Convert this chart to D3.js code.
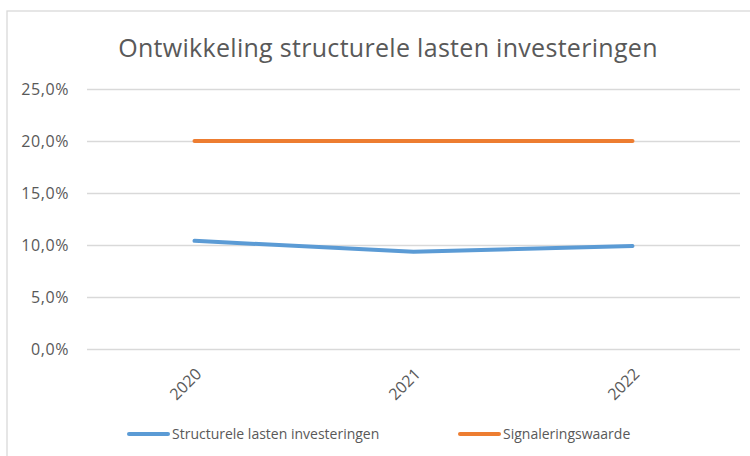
<!DOCTYPE html>
<html><head><meta charset="utf-8">
<script src="https://cdn.jsdelivr.net/npm/d3@7"></script>
<style>body{margin:0;background:#fff}svg{display:block}text{font-family:"Open Sans","Noto Sans",sans-serif}</style>
</head><body>
<svg id="c" width="750" height="456"></svg>
<script>
const categories = ["2020","2021","2022"];
const structurele = [10.4, 9.35, 9.9];
const signalering = [20, 20, 20];
const yTicks = [0,5,10,15,20,25];
const seriesNames = ["Structurele lasten investeringen","Signaleringswaarde"];
const colors = ["#5B9BD5","#ED7D31"];

const svg = d3.select("#c");
svg.append("rect").attr("x",7).attr("y",11).attr("width",760).attr("height",460)
  .attr("fill","#fff").attr("stroke","#d9d9d9").attr("stroke-width",1.3);

const x = d3.scaleBand().domain(categories).range([85,742]);
const y = d3.scaleLinear().domain([0,25]).range([349,89]);
const fmt = v => d3.format(".1f")(v).replace(".",",")+"%";

const yAxis = svg.append("g").attr("transform","translate(87,0)")
  .call(d3.axisLeft(y).tickValues(yTicks).tickSize(-653).tickFormat(fmt).tickPadding(18));
yAxis.select(".domain").remove();
yAxis.selectAll("line").attr("stroke","#d9d9d9").attr("stroke-width",1.3);
yAxis.selectAll("text").attr("fill","#595959").style("font-size","16px").style("letter-spacing","0.6px");

const xAxis = svg.append("g").attr("transform","translate(0,349)")
  .call(d3.axisBottom(x).tickSize(0).tickPadding(0));
xAxis.select(".domain").remove();
xAxis.selectAll("text").attr("fill","#595959").style("font-size","16px")
  .attr("text-anchor","end").attr("dy",0).attr("y",0)
  .attr("transform","translate(8,26) rotate(-45)");

const line = d3.line().x((d,i)=>x(categories[i])+x.bandwidth()/2).y(d=>y(d));
[structurele, signalering].forEach((s,k)=>{
  svg.append("path").datum(s).attr("d",line).attr("fill","none")
    .attr("stroke",colors[k]).attr("stroke-width",4).attr("stroke-linecap","round").attr("stroke-linejoin","round");
});

svg.append("text").attr("x",388).attr("y",57).attr("text-anchor","middle")
  .attr("fill","#595959").style("font-size","25px").style("letter-spacing","0.3px")
  .text("Ontwikkeling structurele lasten investeringen");

const legX = [127, 458];
seriesNames.forEach((n,k)=>{
  svg.append("line").attr("x1",legX[k]+2).attr("x2",legX[k]+41).attr("y1",434).attr("y2",434)
    .attr("stroke",colors[k]).attr("stroke-width",4).attr("stroke-linecap","round");
  svg.append("text").attr("x",legX[k]+45).attr("y",439).attr("fill","#595959")
    .style("font-size","14px").text(n);
});
</script>
</body></html>
